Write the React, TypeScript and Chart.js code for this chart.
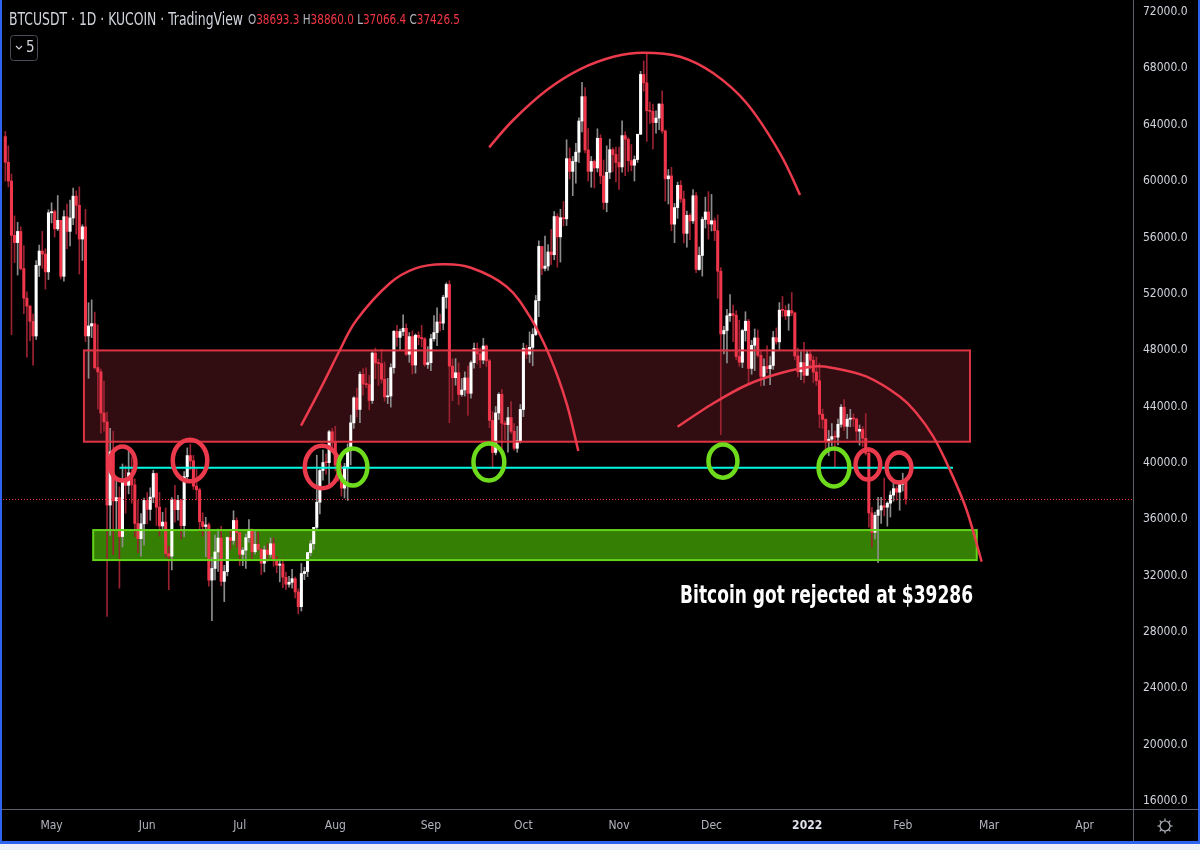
import React, { useEffect, useRef } from 'react';
import { Chart, registerables } from 'chart.js';

Chart.register(...registerables);

// ---------- DATA ----------
// Daily candles [open, high, low, close], BTCUSDT (KuCoin) from 2021-04-16
const START_DATE = '2021-04-16';

const apr2021 = [
  [63158, 63520, 60000, 61334], [61334, 62506, 59580, 60006], [60006, 60499, 49100, 56150],
  [56150, 57526, 54221, 55633], [55633, 57076, 53329, 56425], [56425, 56757, 53695, 53787],
  [53787, 55410, 50583, 51690], [51690, 52131, 47500, 51125], [51125, 51166, 48658, 50047],
  [50047, 50567, 46930, 49004], [49004, 54356, 48753, 54021], [54021, 55460, 53222, 55033],
  [55033, 56428, 53813, 54824], [54824, 55195, 52330, 53555], [53555, 57963, 53013, 57750],
];
const may2021 = [
  [57750, 58459, 57026, 57828], [57828, 57940, 56035, 56610], [56610, 58973, 56478, 57213],
  [57213, 57213, 53046, 53241], [53241, 57911, 52901, 57473], [57473, 58360, 55200, 56428],
  [56428, 58650, 55400, 57380], [57380, 59500, 56900, 58928], [58928, 59300, 56235, 58280],
  [58280, 59592, 53400, 55883], [55883, 56900, 54370, 56750], [56750, 58000, 48600, 49007],
  [49007, 51367, 46000, 49717], [49717, 51570, 48890, 49880], [49880, 50700, 46650, 46760],
  [46760, 49800, 43825, 46456], [46456, 46650, 42100, 43538], [43538, 45800, 42250, 42910],
  [42910, 43600, 29100, 37002], [37002, 42450, 34850, 40782], [40782, 42250, 33488, 37304],
  [37304, 38829, 35200, 37536], [37536, 38300, 31111, 34770], [34770, 39920, 34031, 38705],
  [38705, 39791, 36419, 38402], [38402, 40900, 37800, 39295], [39295, 40411, 37134, 38436],
  [38436, 38856, 34779, 35697], [35697, 37338, 33632, 34617], [34617, 36400, 33379, 35678],
  [35678, 37499, 34153, 37332],
];
const jun2021 = [
  [37332, 37894, 35666, 36694], [36694, 38225, 35920, 37569], [37569, 39476, 37170, 39246],
  [39246, 39289, 35555, 36857], [36857, 37917, 34800, 35520], [35520, 36488, 35242, 35797],
  [35797, 36800, 33300, 33552], [33552, 34068, 31000, 33380], [33380, 37530, 32396, 37388],
  [37388, 38400, 35782, 36675], [36675, 37690, 35936, 37332], [37332, 37436, 34600, 35546],
  [35546, 39380, 34757, 39020], [39020, 41064, 38730, 40516], [40516, 41330, 39506, 40144],
  [40144, 40527, 38116, 38349], [38349, 39560, 37365, 38092], [38092, 38202, 35129, 35820],
  [35820, 36457, 34803, 35484], [35484, 36137, 33336, 35600], [35600, 35750, 31251, 31676],
  [31676, 33298, 28805, 32505], [32505, 34881, 31683, 33675], [33675, 35298, 32286, 34663],
  [34663, 35500, 31275, 31584], [31584, 32730, 30151, 32283], [32283, 34749, 31973, 34700],
  [34700, 35297, 33862, 34494], [34494, 36600, 34225, 35911], [35911, 36100, 34017, 35045],
];
const jul2021 = [
  [35045, 35057, 32711, 33504], [33504, 33977, 32699, 33801], [33801, 34951, 32512, 34688],
  [34688, 35967, 34357, 35287], [35287, 35293, 33125, 33690], [33690, 35118, 33532, 34220],
  [34220, 35059, 33777, 33863], [33863, 33929, 32077, 32875], [32875, 34100, 32261, 33815],
  [33815, 34262, 33004, 33502], [33502, 34666, 33306, 34258], [34258, 34679, 32658, 33086],
  [33086, 33340, 32202, 32729], [32729, 33114, 31550, 32820], [32820, 33185, 31133, 31880],
  [31880, 32249, 31020, 31384], [31384, 31940, 31179, 31521], [31521, 32435, 31108, 31778],
  [31778, 31899, 30407, 30839], [30839, 31063, 29278, 29790], [29790, 32858, 29482, 32144],
  [32144, 32591, 31708, 32287], [32287, 33650, 31925, 33634], [33634, 34500, 33401, 34258],
  [34258, 35398, 33851, 35425], [35425, 40550, 35205, 37208], [37208, 39542, 36383, 39457],
  [39457, 40900, 38772, 40019], [40019, 40640, 39200, 40016], [40016, 42316, 38313, 42206],
  [42206, 42448, 41000, 41461],
];
const aug2021 = [
  [41461, 42599, 39422, 39845], [39845, 40459, 38690, 39147], [39147, 39780, 37642, 38207],
  [38207, 39969, 37508, 39723], [39723, 41350, 37332, 40862], [40862, 43392, 39853, 42836],
  [42836, 44700, 42446, 44614], [44614, 45310, 43261, 43792], [43792, 46456, 42848, 46285],
  [46285, 46700, 44800, 45595], [45595, 46743, 45341, 45555], [45555, 46218, 43770, 44428],
  [44428, 47886, 44217, 47793], [47793, 48144, 45971, 47096], [47096, 47372, 45500, 47047],
  [47047, 48053, 45660, 45936], [45936, 47160, 44376, 44686], [44686, 46000, 44203, 44741],
  [44741, 47033, 43955, 46763], [46763, 49382, 46371, 49339], [49339, 49757, 48263, 48905],
  [48905, 49500, 48026, 49321], [49321, 50500, 49030, 49546], [49546, 49860, 47600, 47706],
  [47706, 49250, 47136, 48960], [48960, 49368, 46315, 46942], [46942, 49150, 46371, 49058],
  [49058, 49309, 48370, 48897], [48897, 49757, 48222, 48806], [48806, 48888, 46853, 46981],
  [46981, 48246, 46700, 47112],
];
const sep2021 = [
  [47112, 49125, 46551, 48810], [48810, 50450, 48632, 49246], [49246, 51000, 48316, 49999],
  [49999, 50558, 49370, 49915], [49915, 51900, 49450, 51756], [51756, 52780, 50969, 52663],
  [52663, 52920, 42843, 46863], [46863, 47381, 44412, 46048], [46048, 47400, 45513, 46395],
  [46395, 47100, 44132, 44851], [44851, 45990, 44722, 45173], [45173, 46460, 44742, 46026],
  [46026, 46876, 43370, 44940], [44940, 47250, 44594, 47111], [47111, 48500, 46712, 48121],
  [48121, 48500, 47020, 47737], [47737, 48150, 46750, 47299], [47299, 48843, 47034, 48293],
  [48293, 48372, 46829, 47242], [47242, 47347, 42500, 43012], [43012, 43639, 39600, 40734],
  [40734, 44000, 40565, 43544], [43544, 44978, 43069, 44865], [44865, 45200, 40675, 42811],
  [42811, 42966, 41646, 42716], [42716, 43950, 40750, 43208], [43208, 44350, 42098, 42235],
  [42235, 42787, 40900, 41034], [41034, 42590, 40753, 41564], [41564, 44141, 41410, 43790],
];
const oct2021 = [
  [43790, 48495, 43283, 48116], [48116, 48359, 47400, 47711], [47711, 49300, 47120, 48199],
  [48199, 49530, 46891, 49112], [49112, 51886, 49022, 51514], [51514, 55750, 50382, 55361],
  [55361, 55338, 53357, 53805], [53805, 56100, 53617, 53967], [53967, 55489, 53661, 54968],
  [54968, 56561, 54080, 54771], [54771, 57839, 54415, 57484], [57484, 57680, 53879, 56041],
  [56041, 58000, 54250, 57401], [57401, 58550, 56818, 57321], [57321, 62933, 56850, 61593],
  [61593, 62350, 60150, 60689], [60689, 61750, 58963, 61393], [61393, 62675, 59844, 62053],
  [62053, 64486, 61322, 64261], [64261, 67000, 63481, 65992], [65992, 66639, 62000, 62210],
  [62210, 63732, 60000, 60692], [60692, 61747, 59562, 61393], [61393, 61500, 59510, 60930],
  [60930, 63710, 60650, 63039], [63039, 63293, 59817, 60363], [60363, 61497, 58000, 58482],
  [58482, 62499, 57820, 60622], [60622, 62980, 60174, 62227], [62227, 62359, 60673, 61888],
  [61888, 62406, 59945, 61318],
];
const nov2021 = [
  [61318, 62419, 59405, 61004], [61004, 64270, 60624, 63226], [63226, 63500, 60382, 62970],
  [62970, 63086, 60677, 61452], [61452, 62595, 60721, 61125], [61125, 61788, 60005, 61527],
  [61527, 63286, 61322, 63326], [63326, 67789, 63300, 67566], [67566, 68530, 66382, 66971],
  [66971, 69000, 62822, 64995], [64995, 65600, 64100, 64949], [64949, 65460, 62278, 64155],
  [64155, 64990, 63400, 64469], [64469, 65495, 63647, 65466], [65466, 66401, 63400, 63557],
  [63557, 63620, 58574, 60161], [60161, 60823, 58373, 60368], [60368, 60976, 56474, 56942],
  [56942, 58412, 55625, 58119], [58119, 59927, 57353, 59697], [59697, 60030, 58486, 58730],
  [58730, 59290, 55610, 56289], [56289, 57875, 55317, 57570], [57570, 57700, 55837, 57177],
  [57177, 59398, 57000, 58960], [58960, 59177, 53500, 53727], [53727, 55320, 53668, 54722],
  [54722, 57445, 53256, 57275], [57275, 58865, 56666, 57806], [57806, 59249, 55875, 56950],
];
const dec2021 = [
  [56950, 59053, 56458, 57184], [57184, 57375, 55777, 56480], [56480, 57600, 51680, 53602],
  [53602, 53859, 42000, 49152], [49152, 49699, 47727, 49397], [49397, 50891, 47100, 50441],
  [50441, 51936, 50039, 50588], [50588, 51200, 48600, 50471], [50471, 50797, 47320, 47545],
  [47545, 50125, 46852, 47140], [47140, 49485, 46751, 49390], [49390, 50724, 48638, 50053],
  [50053, 50189, 45672, 46702], [46702, 48700, 46290, 48343], [48343, 49500, 46547, 48864],
  [48864, 49436, 47511, 47632], [47632, 47995, 45456, 46131], [46131, 47392, 45500, 46834],
  [46834, 48300, 46406, 46681], [46681, 47537, 45558, 46914], [46914, 49328, 46630, 48890],
  [48890, 49576, 48421, 48588], [48588, 51375, 48046, 50838], [50838, 51810, 50384, 50821],
  [50821, 51156, 50171, 50429], [50429, 51280, 49412, 50809], [50809, 52088, 50449, 50640],
  [50640, 50704, 47313, 47588], [47588, 48139, 46096, 46464], [46464, 47900, 45900, 47120],
  [47120, 48548, 45678, 46216],
];
const jan2022 = [
  [46216, 47954, 46208, 47722], [47722, 47990, 46654, 47286], [47286, 47570, 45696, 46446],
  [46446, 47505, 45501, 45832], [45832, 47070, 42500, 43451], [43451, 43816, 42430, 43082],
  [43082, 43145, 40610, 41566], [41566, 42300, 40501, 41679], [41679, 42786, 41200, 41864],
  [41864, 42248, 39650, 41822], [41822, 43100, 41268, 42736], [42736, 44135, 42528, 43949],
  [43949, 44500, 42311, 42592], [42592, 43448, 41725, 43099], [43099, 43800, 42555, 43177],
  [43177, 43476, 42581, 43114], [43114, 43179, 41541, 42250], [42250, 42691, 41250, 42375],
  [42375, 42578, 41138, 41744], [41744, 43505, 40553, 40680], [40680, 41100, 35440, 36445],
  [36445, 36835, 34008, 35071], [35071, 36499, 34601, 36276], [36276, 37550, 32917, 36654],
  [36654, 37545, 35701, 36954], [36954, 38919, 36234, 36852], [36852, 37234, 35507, 37138],
  [37138, 38000, 36155, 37712], [37712, 38720, 37268, 38170], [38170, 38359, 37351, 37917],
  [37917, 38744, 36632, 38483],
];
const feb2022 = [
  [38483, 39265, 38000, 38693.3], [38693.3, 38860.0, 37066.4, 37426.5],
];

const monthTickDates = ['2021-05-01', '2021-06-01', '2021-07-01', '2021-08-01', '2021-09-01', '2021-10-01',
  '2021-11-01', '2021-12-01', '2022-01-01', '2022-02-01', '2022-03-01', '2022-04-01'];
const monthTickLabels = ['May', 'Jun', 'Jul', 'Aug', 'Sep', 'Oct', 'Nov', 'Dec', '2022', 'Feb', 'Mar', 'Apr'];
const priceTicks = [16000, 20000, 24000, 28000, 32000, 36000, 40000, 44000, 48000, 52000, 56000, 60000, 64000, 68000, 72000];

// Drawings (x in days since start, y in price)
const resistanceZone = { from: 25.5, to: 312.8, low: 41500, high: 47980 };
const supportZone = { from: 28.5, to: 315.0, low: 33100, high: 35230 };
const keyLevel = { from: 37.0, to: 307.3, price: 39650 };
// [day, price, halfWidthDays, halfHeightPrice, kind]
const markerCircles = [
  [38.0, 39954, 4.2, 1210, 'red'],
  [59.9, 40167, 5.6, 1480, 'red'],
  [102.7, 39705, 5.6, 1510, 'red'],
  [112.7, 39705, 4.7, 1320, 'green'],
  [156.8, 40060, 5.0, 1320, 'green'],
  [232.7, 40131, 4.7, 1180, 'green'],
  [268.7, 39670, 5.0, 1350, 'green'],
  [279.7, 39883, 4.0, 1070, 'red'],
  [289.8, 39670, 4.0, 1070, 'red'],
];
const arcFirstTop = [[95.9, 42638], [103.1, 45645], [108.5, 48010], [113.9, 50139], [124.7, 52744], [133.0, 53800],
  [142.0, 54093], [151.0, 53850], [162.6, 52503], [170.1, 50373], [176.6, 47534], [182.0, 44227], [185.8, 40841]];
const arcSecondTop = [[156.9, 62397], [164.7, 64334], [175.6, 66464], [186.3, 67933], [197.2, 68827], [206.9, 69111],
  [218.8, 68827], [229.6, 67649], [240.4, 65520], [251.2, 61971], [257.7, 59011]];
const arcThirdTop = [[218.0, 42566], [229.6, 44227], [240.4, 45526], [251.2, 46356], [261.9, 46839], [268.5, 46732],
  [279.3, 46115], [290.1, 44695], [295.5, 43517], [300.9, 41856], [306.3, 39493], [311.7, 36653], [316.6, 32984]];
const noteText = { day: 218.8, price: 30050, text: 'Bitcoin got rejected at $39286' };
const headerSymbol = 'BTCUSDT · 1D · KUCOIN · TradingView';

// ---------- helpers ----------
const DAY = 86400000;
const dayIndex = (d: string) => Math.round((Date.parse(d + 'T00:00:00Z') - Date.parse(START_DATE + 'T00:00:00Z')) / DAY);
const candles = [apr2021, may2021, jun2021, jul2021, aug2021, sep2021, oct2021, nov2021, dec2021, jan2022, feb2022].flat();
const monthTickIdx = monthTickDates.map(dayIndex);

const FONT = "'DejaVu Sans Condensed', 'Liberation Sans Narrow', 'Liberation Sans', sans-serif";
const BULL = '#ffffff';
const BEAR = '#f0364a';
const BULL_WICK = '#8c8c8c';
const BEAR_WICK = '#9a2230';
const RED_DRAW = '#ea3a4c';
const GREEN_DRAW = '#6edc1c';

function smoothPath(ctx: CanvasRenderingContext2D, pts: { x: number; y: number }[]) {
  ctx.beginPath();
  ctx.moveTo(pts[0].x, pts[0].y);
  for (let i = 0; i < pts.length - 1; i++) {
    const p0 = pts[i - 1] || pts[i];
    const p1 = pts[i];
    const p2 = pts[i + 1];
    const p3 = pts[i + 2] || p2;
    ctx.bezierCurveTo(
      p1.x + (p2.x - p0.x) / 6, p1.y + (p2.y - p0.y) / 6,
      p2.x - (p3.x - p1.x) / 6, p2.y - (p3.y - p1.y) / 6,
      p2.x, p2.y,
    );
  }
  ctx.stroke();
}

const overlayPlugin = {
  id: 'overlay',
  beforeDraw(chart: any) {
    const ctx = chart.ctx as CanvasRenderingContext2D;
    ctx.save();
    ctx.fillStyle = '#eef1f7';
    ctx.fillRect(0, 0, chart.width, chart.height);
    ctx.fillStyle = '#000000';
    ctx.fillRect(0, 0, 1198, 843);
    ctx.restore();
  },
  beforeDatasetsDraw(chart: any) {
    const ctx = chart.ctx as CanvasRenderingContext2D;
    const x = chart.scales.x;
    const y = chart.scales.y;
    ctx.save();
    const rz = resistanceZone;
    ctx.fillStyle = '#310d12';
    ctx.fillRect(x.getPixelForValue(rz.from), y.getPixelForValue(rz.high),
      x.getPixelForValue(rz.to) - x.getPixelForValue(rz.from), y.getPixelForValue(rz.low) - y.getPixelForValue(rz.high));
    const sz = supportZone;
    ctx.fillStyle = '#358004';
    ctx.fillRect(x.getPixelForValue(sz.from), y.getPixelForValue(sz.high),
      x.getPixelForValue(sz.to) - x.getPixelForValue(sz.from), y.getPixelForValue(sz.low) - y.getPixelForValue(sz.high));
    ctx.restore();
  },
  afterDatasetsDraw(chart: any) {
    const ctx = chart.ctx as CanvasRenderingContext2D;
    const x = chart.scales.x;
    const y = chart.scales.y;
    const area = chart.chartArea;
    ctx.save();
    // zone borders
    const rz = resistanceZone;
    ctx.lineWidth = 2;
    ctx.strokeStyle = '#dc3443';
    ctx.strokeRect(x.getPixelForValue(rz.from), y.getPixelForValue(rz.high),
      x.getPixelForValue(rz.to) - x.getPixelForValue(rz.from), y.getPixelForValue(rz.low) - y.getPixelForValue(rz.high));
    const sz = supportZone;
    ctx.strokeStyle = '#62d41a';
    ctx.strokeRect(x.getPixelForValue(sz.from), y.getPixelForValue(sz.high),
      x.getPixelForValue(sz.to) - x.getPixelForValue(sz.from), y.getPixelForValue(sz.low) - y.getPixelForValue(sz.high));

    // last price dotted line
    const last = candles[candles.length - 1];
    const lpY = Math.round(y.getPixelForValue(last[3])) + 0.5;
    ctx.strokeStyle = '#f23645';
    ctx.lineWidth = 1;
    ctx.setLineDash([1, 2]);
    ctx.beginPath();
    ctx.moveTo(area.left, lpY);
    ctx.lineTo(area.right, lpY);
    ctx.stroke();
    ctx.setLineDash([]);

    // key level
    ctx.strokeStyle = '#00f7e0';
    ctx.lineWidth = 2;
    const ky = y.getPixelForValue(keyLevel.price);
    ctx.beginPath();
    ctx.moveTo(x.getPixelForValue(keyLevel.from), ky);
    ctx.lineTo(x.getPixelForValue(keyLevel.to), ky);
    ctx.stroke();

    // arcs
    ctx.strokeStyle = RED_DRAW;
    ctx.lineWidth = 2.5;
    for (const arc of [arcFirstTop, arcSecondTop, arcThirdTop]) {
      smoothPath(ctx, arc.map(([d, p]) => ({ x: x.getPixelForValue(d), y: y.getPixelForValue(p) })));
    }

    // circles
    ctx.lineWidth = 4.5;
    for (const [d, p, hw, hh, kind] of markerCircles as any[]) {
      const cx = x.getPixelForValue(d);
      const cy = y.getPixelForValue(p);
      const rx = Math.abs(x.getPixelForValue(d + hw) - cx);
      const ry = Math.abs(y.getPixelForValue(p + hh) - cy);
      ctx.strokeStyle = kind === 'red' ? RED_DRAW : GREEN_DRAW;
      ctx.beginPath();
      ctx.ellipse(cx, cy, rx, ry, 0, 0, Math.PI * 2);
      ctx.stroke();
    }

    // note text
    ctx.fillStyle = '#ffffff';
    ctx.font = `bold 24px ${FONT}`;
    ctx.textAlign = 'left';
    ctx.textBaseline = 'alphabetic';
    ctx.fillText(noteText.text, x.getPixelForValue(noteText.day), y.getPixelForValue(noteText.price), 293);
    ctx.restore();
  },
  afterDraw(chart: any) {
    const ctx = chart.ctx as CanvasRenderingContext2D;
    const area = chart.chartArea;
    ctx.save();
    // axis separators
    ctx.fillStyle = '#5d606b';
    ctx.fillRect(area.right, 0, 1, 843);
    ctx.fillRect(0, area.bottom, 1198, 1);

    // header
    ctx.textBaseline = 'alphabetic';
    ctx.textAlign = 'left';
    ctx.fillStyle = '#d1d4dc';
    ctx.font = `17px ${FONT}`;
    ctx.fillText(headerSymbol, 9, 25, 234);

    const last = candles[candles.length - 1];
    const pieces: [string, string][] = [
      ['O', '#b2b5be'], [last[0].toFixed(1), '#f23645'], [' H', '#b2b5be'], [last[1].toFixed(1), '#f23645'],
      [' L', '#b2b5be'], [last[2].toFixed(1), '#f23645'], [' C', '#b2b5be'], [last[3].toFixed(1), '#f23645'],
    ];
    ctx.font = `14px ${FONT}`;
    const total = pieces.reduce((s, [t]) => s + ctx.measureText(t).width, 0);
    const sx = 212 / total;
    let px = 248;
    for (const [t, c] of pieces) {
      ctx.save();
      ctx.translate(px, 24);
      ctx.scale(sx, 1);
      ctx.fillStyle = c;
      ctx.fillText(t, 0, 0);
      ctx.restore();
      px += ctx.measureText(t).width * sx;
    }

    // indicator button
    ctx.strokeStyle = '#4a4d57';
    ctx.lineWidth = 1;
    ctx.beginPath();
    (ctx as any).roundRect(10.5, 35.5, 27, 25, 3);
    ctx.stroke();
    ctx.strokeStyle = '#d1d4dc';
    ctx.lineWidth = 1.2;
    ctx.beginPath();
    ctx.moveTo(16, 46);
    ctx.lineTo(19, 49);
    ctx.lineTo(22, 46);
    ctx.stroke();
    ctx.fillStyle = '#d1d4dc';
    ctx.font = `15px ${FONT}`;
    ctx.textBaseline = 'middle';
    ctx.fillText('5', 26, 48.5);

    // settings gear
    ctx.strokeStyle = '#b2b5be';
    ctx.lineWidth = 1.2;
    ctx.beginPath();
    ctx.arc(1165, 826, 5, 0, Math.PI * 2);
    ctx.stroke();
    for (let i = 0; i < 8; i++) {
      const a = (i * Math.PI) / 4;
      ctx.beginPath();
      ctx.moveTo(1165 + Math.cos(a) * 5, 826 + Math.sin(a) * 5);
      ctx.lineTo(1165 + Math.cos(a) * 7.5, 826 + Math.sin(a) * 7.5);
      ctx.stroke();
    }

    // blue frame
    ctx.fillStyle = '#2f64f0';
    ctx.fillRect(0, 0, 2, 843);
    ctx.fillRect(1198, 0, 2, 843);
    ctx.fillRect(0, 841, 1200, 3);
    ctx.restore();
  },
};

export default function App() {
  const ref = useRef<HTMLCanvasElement | null>(null);
  useEffect(() => {
    const canvas = ref.current;
    if (!canvas) return;
    const bodies = candles.map((c, i) => ({ x: i, y: [c[0], c[3]] }));
    const wicks = candles.map((c, i) => ({ x: i, y: [c[2], c[1]] }));
    const chart = new Chart(canvas, {
      type: 'bar',
      data: {
        datasets: [
          {
            label: 'body',
            data: bodies as any,
            backgroundColor: candles.map((c) => (c[3] >= c[0] ? BULL : BEAR)),
            barThickness: 2.4,
            minBarLength: 1,
            grouped: false,
            borderWidth: 0,
          },
          {
            label: 'wick',
            data: wicks as any,
            backgroundColor: candles.map((c) => (c[3] >= c[0] ? BULL_WICK : BEAR_WICK)),
            barThickness: 1,
            minBarLength: 1,
            grouped: false,
            borderWidth: 0,
          },
        ],
      },
      options: {
        responsive: false,
        maintainAspectRatio: false,
        animation: false,
        events: [],
        layout: { padding: { left: 3, top: 0, right: 3, bottom: 7 } },
        plugins: { legend: { display: false }, tooltip: { enabled: false } },
        scales: {
          x: {
            type: 'linear',
            min: -0.746,
            max: 365.66,
            offset: false,
            grid: { display: false, drawTicks: false },
            border: { display: false },
            afterBuildTicks: (s: any) => { s.ticks = monthTickIdx.map((v) => ({ value: v })); },
            afterFit: (s: any) => { s.height = 34; s.paddingLeft = 0; s.paddingRight = 0; },
            ticks: {
              autoSkip: false,
              maxRotation: 0,
              padding: 10,
              callback: (v: any) => {
                const k = monthTickIdx.indexOf(Number(v));
                return k >= 0 ? monthTickLabels[k] : '';
              },
              color: (c: any) => (c.tick && monthTickLabels[monthTickIdx.indexOf(c.tick.value)] === '2022' ? '#e0e3eb' : '#b2b5be'),
              font: (c: any) => ({
                family: FONT,
                size: 12,
                weight: c.tick && monthTickLabels[monthTickIdx.indexOf(c.tick.value)] === '2022' ? 'bold' : 'normal',
              }),
            },
          },
          y: {
            type: 'linear',
            position: 'right',
            min: 15432,
            max: 72852,
            grid: { display: false, drawTicks: false },
            border: { display: false },
            afterBuildTicks: (s: any) => { s.ticks = priceTicks.map((v) => ({ value: v })); },
            afterFit: (s: any) => { s.width = 64; s.paddingTop = 0; s.paddingBottom = 0; },
            ticks: {
              padding: 10,
              callback: (v: any) => Number(v).toFixed(1),
              color: '#d1d4dc',
              font: { family: FONT, size: 12 },
            },
          },
        },
      } as any,
      plugins: [overlayPlugin],
    });
    return () => chart.destroy();
  }, []);

  return (
    <div style={{ position: 'fixed', left: 0, top: 0, width: 1200, height: 850 }}>
      <canvas ref={ref} width={1200} height={850} style={{ width: 1200, height: 850, display: 'block' }} />
    </div>
  );
}
